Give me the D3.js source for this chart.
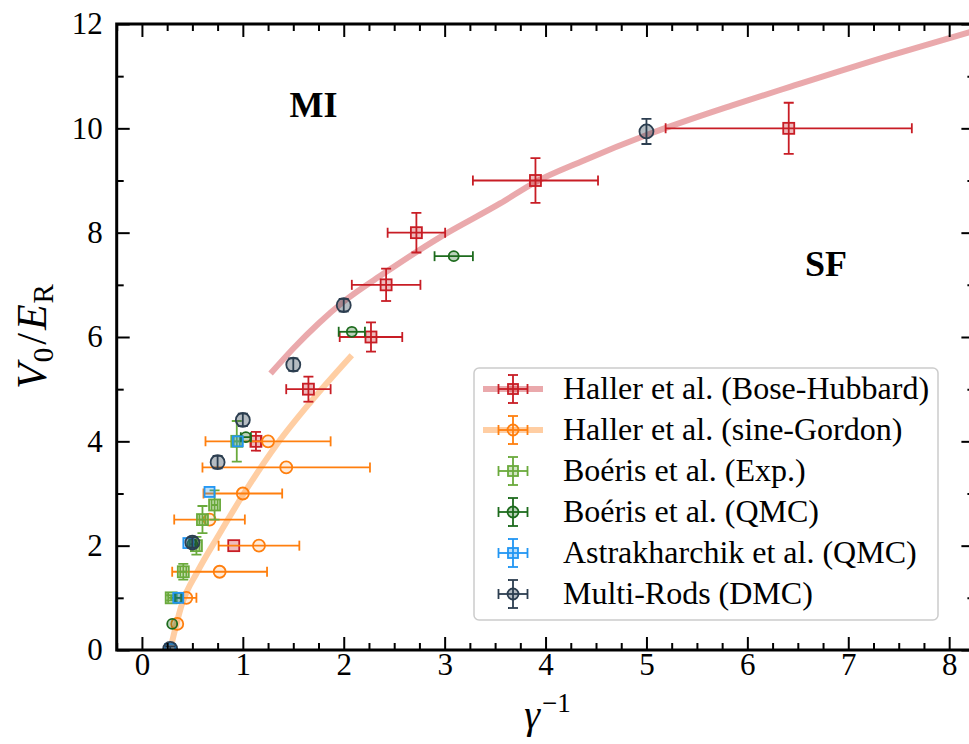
<!DOCTYPE html>
<html><head><meta charset="utf-8">
<script src="https://cdn.jsdelivr.net/npm/d3@7"></script>
<style>
  body { margin: 0; background: #fff; }
  svg text { font-family: "Liberation Serif", "DejaVu Serif", serif; }
</style>
</head><body>
<svg id="chart" width="969" height="744"></svg>
<script>
// ---- Haller et al. (Bose-Hubbard) ----
const bhX    = [6.41, 3.90, 2.72, 2.42, 2.27, 1.65, 1.13, 0.91];
const bhY    = [10, 9, 8, 7, 6, 5, 4, 2];
const bhXErr = [1.22, 0.62, 0.285, 0.34, 0.31, 0.22, 0.05, 0];
const bhYErr = [0.49, 0.43, 0.38, 0.31, 0.28, 0.24, 0.18, 0];
const bhCurveX = [1.275, 1.5, 1.75, 2.0, 2.4, 2.96, 3.55, 3.90, 4.35, 5.04, 5.85, 6.43, 7.42, 8.25];
const bhCurveY = [5.30, 5.78, 6.26, 6.68, 7.22, 7.92, 8.56, 8.97, 9.36, 9.90, 10.44, 10.80, 11.40, 11.87];

// ---- Haller et al. (sine-Gordon) ----
const sgX    = [1.25, 1.43, 1.00, 0.67, 1.16, 0.77, 0.44, 0.35];
const sgY    = [4.0, 3.5, 3.0, 2.5, 2.0, 1.5, 1.0, 0.5];
const sgXErr = [0.62, 0.83, 0.39, 0.35, 0.40, 0.47, 0.10, 0];
const sgYErr = [0, 0, 0, 0, 0, 0, 0, 0];
const sgCurveX = [0.28, 0.40, 0.55, 0.76, 1.01, 1.34, 1.67, 2.08];
const sgCurveY = [0.0, 0.9, 1.5, 2.2, 3.0, 3.95, 4.75, 5.65];

// ---- Boéris et al. (Exp.) ----
const exX    = [0.94, 0.72, 0.60, 0.54, 0.41, 0.29];
const exY    = [4.0, 2.78, 2.5, 2.0, 1.5, 1.0];
const exXErr = [0.03, 0.03, 0.03, 0.03, 0.03, 0.03];
const exYErr = [0.39, 0.28, 0.26, 0.17, 0.15, 0.05];

// ---- Boéris et al. (QMC) ----
const qmX    = [3.09, 2.08, 1.03, 0.50, 0.36, 0.30];
const qmY    = [7.55, 6.10, 4.08, 2.03, 1.0, 0.5];
const qmXErr = [0.19, 0.13, 0.05, 0.03, 0.03, 0];
const qmYErr = [0, 0, 0, 0, 0, 0];

// ---- Astrakharchik et al. (QMC) ----
const asX    = [0.95, 0.67, 0.46, 0.36, 0.28];
const asY    = [4.0, 3.03, 2.05, 1.0, 0.02];
const asXErr = [0, 0, 0, 0, 0];
const asYErr = [0, 0, 0, 0, 0];

// ---- Multi-Rods (DMC) ----
const dmX    = [5.0, 2.0, 1.5, 1.0, 0.75, 0.5, 0.28];
const dmY    = [9.94, 6.61, 5.47, 4.41, 3.60, 2.06, 0.02];
const dmXErr = [0, 0, 0, 0, 0, 0, 0];
const dmYErr = [0.24, 0.12, 0.12, 0.12, 0.12, 0.10, 0.05];

// ---- axes ticks ----
const xMajorTicks = [0, 1, 2, 3, 4, 5, 6, 7, 8];
const yMajorTicks = [0, 2, 4, 6, 8, 10, 12];

const legendLabels = [
  "Haller et al. (Bose-Hubbard)",
  "Haller et al. (sine-Gordon)",
  "Boéris et al. (Exp.)",
  "Boéris et al. (QMC)",
  "Astrakharchik et al. (QMC)",
  "Multi-Rods (DMC)"
];

const regionLabels = [
  { text: "MI", x: 1.70, y: 10.22 },
  { text: "SF", x: 6.78, y: 7.17 }
];

// ---------------------------------------------------------------
const FONT = "Liberation Serif";
const svg = d3.select("#chart");
const box = { left: 116.7, right: 974.4, top: 24, bottom: 650 };

const x = d3.scaleLinear().domain([-0.25, 8.25]).range([box.left, box.right]);
const y = d3.scaleLinear().domain([0, 12]).range([box.bottom, box.top]);

const xMinor = d3.range(-0.25, 8.26, 0.25).filter(v => Math.abs(v - Math.round(v)) > 1e-6);
const yMinor = d3.range(1, 12, 2);

svg.append("defs").append("clipPath").attr("id", "plotClip")
  .append("rect")
  .attr("x", box.left).attr("y", box.top)
  .attr("width", box.right - box.left).attr("height", box.bottom - box.top);

const plot = svg.append("g").attr("clip-path", "url(#plotClip)");

// guide curves
const line = d3.line().x(d => x(d[0])).y(d => y(d[1])).curve(d3.curveMonotoneX);
const series = [
  { name: legendLabels[0], color: "#c81d25", shape: "square", size: 11,
    xs: bhX, ys: bhY, xe: bhXErr, ye: bhYErr, cap: 5,
    curve: d3.zip(bhCurveX, bhCurveY), fillOp: 0.3 },
  { name: legendLabels[1], color: "#ff7f0e", shape: "circle", size: 12,
    xs: sgX, ys: sgY, xe: sgXErr, ye: sgYErr, cap: 5,
    curve: d3.zip(sgCurveX, sgCurveY), fillOp: 0.15 },
  { name: legendLabels[2], color: "#6aaa3c", shape: "square", size: 11,
    xs: exX, ys: exY, xe: exXErr, ye: exYErr, cap: 5, fillOp: 0.3 },
  { name: legendLabels[3], color: "#1d6b1d", shape: "circle", size: 10,
    xs: qmX, ys: qmY, xe: qmXErr, ye: qmYErr, cap: 5, fillOp: 0.3 },
  { name: legendLabels[4], color: "#2196f3", shape: "square", size: 10,
    xs: asX, ys: asY, xe: asXErr, ye: asYErr, cap: 5, fillOp: 0.3 },
  { name: legendLabels[5], color: "#2c3e50", shape: "circle", size: 14,
    xs: dmX, ys: dmY, xe: dmXErr, ye: dmYErr, cap: 5, fillOp: 0.35 }
];

series.filter(s => s.curve).forEach(s => {
  plot.append("path").datum(s.curve)
    .attr("d", line)
    .attr("fill", "none")
    .attr("stroke", s.color)
    .attr("stroke-opacity", 0.38)
    .attr("stroke-width", 6);
});

function errorBars(g, cx, cy, dxm, dxp, dym, dyp, s) {
  const add = (x1, y1, x2, y2) => g.append("line")
    .attr("x1", x1).attr("y1", y1).attr("x2", x2).attr("y2", y2)
    .attr("stroke", s.color).attr("stroke-width", 1.8);
  if (dxm !== null) {
    add(dxm, cy, dxp, cy);
    add(dxm, cy - s.cap, dxm, cy + s.cap);
    add(dxp, cy - s.cap, dxp, cy + s.cap);
  }
  if (dym !== null) {
    add(cx, dym, cx, dyp);
    add(cx - s.cap, dym, cx + s.cap, dym);
    add(cx - s.cap, dyp, cx + s.cap, dyp);
  }
}

function marker(g, cx, cy, s, size) {
  const sz = size || s.size;
  let m;
  if (s.shape === "square") {
    m = g.append("rect").attr("x", cx - sz / 2).attr("y", cy - sz / 2)
      .attr("width", sz).attr("height", sz);
  } else {
    m = g.append("circle").attr("cx", cx).attr("cy", cy).attr("r", sz / 2);
  }
  m.attr("fill", s.color).attr("fill-opacity", s.fillOp)
    .attr("stroke", s.color).attr("stroke-width", 1.8);
}

series.forEach(s => {
  const g = plot.append("g");
  s.xs.forEach((xv, i) => {
    const cx = x(xv), cy = y(s.ys[i]);
    const xe = s.xe[i], ye = s.ye[i];
    errorBars(g, cx, cy,
      xe > 0 ? x(xv - xe) : null, xe > 0 ? x(xv + xe) : null,
      ye > 0 ? y(s.ys[i] - ye) : null, ye > 0 ? y(s.ys[i] + ye) : null, s);
    marker(g, cx, cy, s);
  });
});

// region labels
regionLabels.forEach(r => {
  svg.append("text")
    .attr("x", x(r.x)).attr("y", y(r.y))
    .attr("text-anchor", "middle")
    .attr("font-family", FONT)
    .attr("font-weight", "bold")
    .attr("font-size", 36)
    .text(r.text);
});

// ---- axes with inward ticks on all four sides ----
function styleAxis(g) {
  g.attr("font-family", FONT);
  g.select(".domain").remove();
  g.selectAll(".tick line").attr("stroke", "#000").attr("stroke-width", 2);
  g.selectAll(".tick text").attr("fill", "#000")
    .attr("font-family", FONT).attr("font-size", 31);
}

svg.append("g").attr("transform", `translate(0,${box.bottom})`)
  .call(d3.axisBottom(x).tickValues(xMajorTicks).tickSize(-13).tickPadding(3).tickFormat(d3.format("d")))
  .call(styleAxis);
svg.append("g").attr("transform", `translate(0,${box.bottom})`)
  .call(d3.axisBottom(x).tickValues(xMinor).tickSize(-7).tickFormat(""))
  .call(styleAxis);
svg.append("g").attr("transform", `translate(0,${box.top})`)
  .call(d3.axisTop(x).tickValues(xMajorTicks).tickSize(-13).tickFormat(""))
  .call(styleAxis);
svg.append("g").attr("transform", `translate(0,${box.top})`)
  .call(d3.axisTop(x).tickValues(xMinor).tickSize(-7).tickFormat(""))
  .call(styleAxis);

svg.append("g").attr("transform", `translate(${box.left},0)`)
  .call(d3.axisLeft(y).tickValues(yMajorTicks).tickSize(-13).tickPadding(14).tickFormat(d3.format("d")))
  .call(styleAxis);
svg.append("g").attr("transform", `translate(${box.left},0)`)
  .call(d3.axisLeft(y).tickValues(yMinor).tickSize(-7).tickFormat(""))
  .call(styleAxis);
svg.append("g").attr("transform", `translate(${box.right},0)`)
  .call(d3.axisRight(y).tickValues(yMajorTicks).tickSize(-13).tickFormat(""))
  .call(styleAxis);
svg.append("g").attr("transform", `translate(${box.right},0)`)
  .call(d3.axisRight(y).tickValues(yMinor).tickSize(-7).tickFormat(""))
  .call(styleAxis);

// frame
svg.append("rect")
  .attr("x", box.left).attr("y", box.top)
  .attr("width", box.right - box.left).attr("height", box.bottom - box.top)
  .attr("fill", "none").attr("stroke", "#000").attr("stroke-width", 3);

// axis titles
const xTitle = svg.append("text")
  .attr("x", x(4.02)).attr("y", 728)
  .attr("text-anchor", "middle").attr("font-family", FONT).attr("font-size", 40);
xTitle.append("tspan").attr("font-style", "italic").text("γ");
xTitle.append("tspan").attr("font-size", 27).attr("dy", -16).attr("dx", 2).text("−1");

const yTitle = svg.append("text")
  .attr("transform", "translate(46,336) rotate(-90)")
  .attr("text-anchor", "middle").attr("font-family", FONT).attr("font-size", 42)
  .attr("letter-spacing", 1);
yTitle.append("tspan").attr("font-style", "italic").text("V");
yTitle.append("tspan").attr("font-size", 29).attr("dy", 7).text("0");
yTitle.append("tspan").attr("dy", -7).attr("dx", 2).text("/");
yTitle.append("tspan").attr("font-style", "italic").attr("dx", 2).text("E");
yTitle.append("tspan").attr("font-size", 29).attr("dy", 7).text("R");

// ---- legend ----
const lg = svg.append("g");
lg.append("rect")
  .attr("x", 474).attr("y", 368).attr("width", 464).attr("height", 252)
  .attr("rx", 5).attr("fill", "#fff").attr("fill-opacity", 0.8)
  .attr("stroke", "#cccccc").attr("stroke-width", 1.5);

series.forEach((s, i) => {
  const cy = 389 + i * 41, cx = 513;
  const g = lg.append("g");
  if (s.curve) {
    g.append("line").attr("x1", 483).attr("x2", 543).attr("y1", cy).attr("y2", cy)
      .attr("stroke", s.color).attr("stroke-opacity", 0.38).attr("stroke-width", 6);
  }
  errorBars(g, cx, cy, cx - 14.5, cx + 14.5, cy + 14, cy - 14, s);
  marker(g, cx, cy, s, s.shape === "circle" ? 11 : 10);
  g.append("text").attr("x", 563).attr("y", cy + 10)
    .attr("font-family", FONT).attr("font-size", 32).text(s.name);
});
</script>
</body></html>
